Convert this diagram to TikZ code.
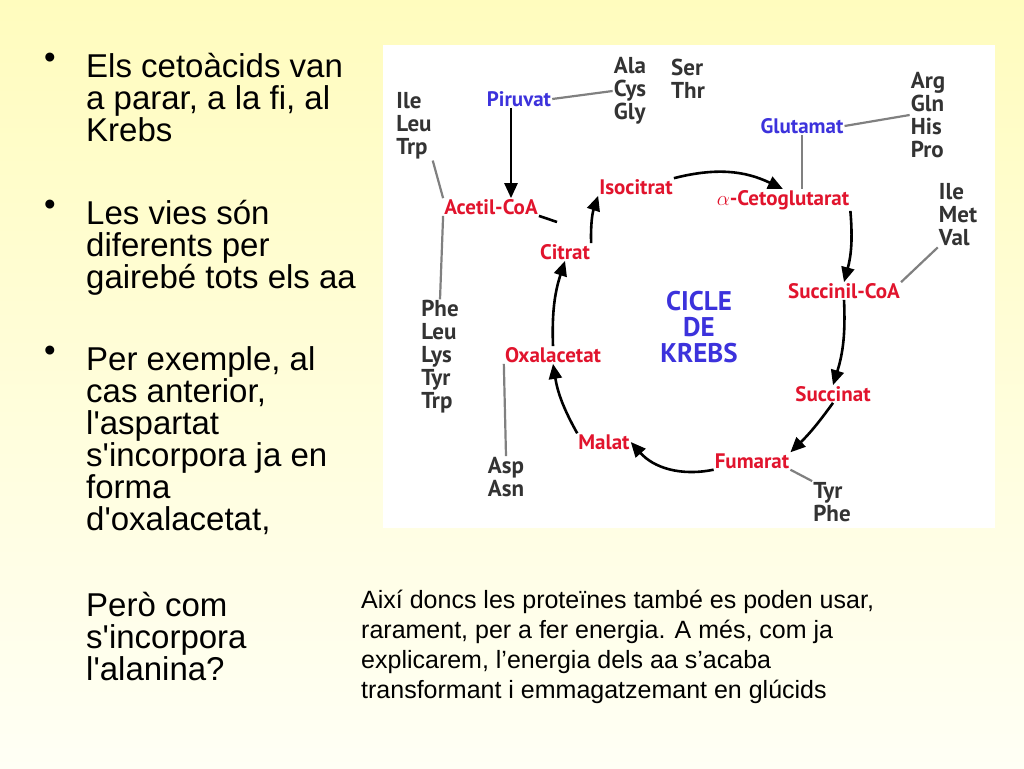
\documentclass[tikz,border=0pt]{standalone}
\usepackage{fontspec}
\setmainfont{Liberation Sans}
\newfontfamily\diagfont{PT Sans}
\usetikzlibrary{arrows.meta}
\definecolor{bgtop}{RGB}{255,252,190}
\definecolor{bgbot}{RGB}{255,255,245}
\definecolor{krebsred}{RGB}{225,20,45}
\definecolor{krebsblue}{RGB}{60,50,220}
\newcommand{\q}{\textquotesingle}
\tikzset{
  met/.style={font=\diagfont\bfseries\fontsize{21}{21}\selectfont, text=krebsred, inner sep=1pt},
  src/.style={font=\diagfont\bfseries\fontsize{21}{21}\selectfont, text=krebsblue, inner sep=1pt},
  aa/.style={font=\diagfont\bfseries\fontsize{23}{23}\selectfont, text=black!80, align=left, inner sep=1pt},
  cyc/.style={-{Triangle[length=15pt,width=13pt]}, line width=2.6pt, black},
  link/.style={line width=2.2pt, gray},
  para/.style={font=\fontsize{33}{32}\selectfont, align=left, anchor=north west, inner sep=0pt},
}
\begin{document}
\begin{tikzpicture}[x=1pt,y=-1pt]
    \shade[top color=bgtop, bottom color=bgbot] (0,0) rectangle (1024,768);
    \useasboundingbox (0,0) rectangle (1024,768);
    \fill[white] (383,45) rectangle (995,528);
    % texts on the left
    \foreach \y/\t in {53/{Els cetoàcids van\\a parar, a la fi, al\\Krebs},
                       200/{Les vies són\\diferents per\\gairebé tots els aa},
                       346/{Per exemple, al\\cas anterior,\\l\q aspartat\\s\q incorpora ja en\\forma\\d\q oxalacetat,}}
      {\node[para] at (86,\y) {\t};
       \node[para] at (44,\y) {•};}
    \node[para] (pero) at (86,592) {Però com\\s\q incorpora\\l\q alanina?};
    \node[font=\fontsize{25}{30}\selectfont, align=left, anchor=north west, inner sep=0pt] (aixi) at (361,590)
      {Així doncs les proteïnes també es poden usar,\\rarament, per a fer energia. A més, com ja\\explicarem, l’energia dels aa s’acaba\\transformant i emmagatzemant en glúcids};
    % the cycle
    \node[src] (piru) at (519,99) {Piruvat};
    \node[src] (glut) at (802,126) {Glutamat};
    \node[met] (acet) at (491,207) {Acetil-CoA};
    \node[met] (isoc) at (636,187) {Isocitrat};
    \node[met] (ceto) at (783,200) {$\alpha$-Cetoglutarat};
    \node[met] (citr) at (565,252) {Citrat};
    \node[met] (succoa) at (844,291) {Succinil-CoA};
    \node[met] (oxal) at (553,355) {Oxalacetat};
    \node[met] (succ) at (833,394) {Succinat};
    \node[met] (mala) at (604,442) {Malat};
    \node[met] (fuma) at (752,461) {Fumarat};
    \node[font=\diagfont\bfseries\fontsize{27}{26}\selectfont, text=krebsblue, align=center] (cicle) at (699,327) {CICLE\\DE\\KREBS};
    % amino acids
    \node[aa] (aa1) at (630,91) {Ala\\Cys\\Gly};
    \node[aa] (aa2) at (688,79) {Ser\\Thr};
    \node[aa] (aa3) at (414,126) {Ile\\Leu\\Trp};
    \node[aa] (aa4) at (928,115) {Arg\\Gln\\His\\Pro};
    \node[aa] (aa5) at (958,215) {Ile\\Met\\Val};
    \node[aa] (aa6) at (440,357) {Phe\\Leu\\Lys\\Tyr\\Trp};
    \node[aa] (aa7) at (506,477) {Asp\\Asn};
    \node[aa] (aa8) at (832,502) {Tyr\\Phe};
    % arrows of the cycle
    \draw[cyc] (piru.south -| 511,0) -- (acet.north -| 511,0);
    \draw[cyc] (citr.north east) to[bend left=10] (isoc.south west);
    \draw[line width=2.6pt] (acet.south east) -- (557,222);
    \draw[cyc] (isoc.north east) to[bend left=20] (ceto.north);
    \draw[cyc] (ceto.south east) to[bend left=10] (succoa.north);
    \draw[cyc] (succoa.south) to[bend left=10] (succ.north);
    \draw[cyc] (succ.south) to[bend left=5] (fuma.north east);
    \draw[cyc] (fuma.south west) to[bend left=30] (mala.east);
    \draw[cyc] (mala.north west) to[bend left=10] (oxal.south);
    \draw[cyc] (oxal.north) to[bend left=10] (citr.south);
    % links to amino acids
    \draw[link] (piru.east) -- (aa1.west);
    \draw[link] (glut.east) -- (aa4.west);
    \draw[link] (glut.south) -- (ceto.north -| glut.south);
    \draw[link] (aa5.south west) -- (succoa.north east);
    \draw[link] (aa3.south east) -- (acet.north west);
    \draw[link] (acet.south west) -- (aa6.north);
    \draw[link] (oxal.south west) -- (aa7.north);
    \draw[link] (fuma.south east) -- (aa8.north west);
\end{tikzpicture}
\end{document}
